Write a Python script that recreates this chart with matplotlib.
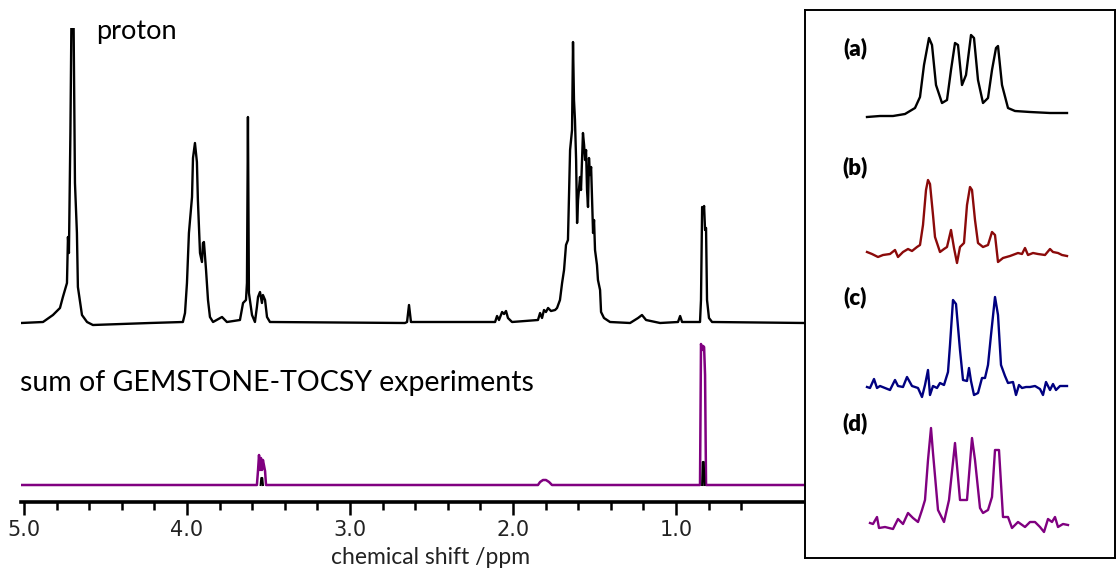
import matplotlib
matplotlib.use("Agg")
import matplotlib.pyplot as plt
from matplotlib.ticker import FixedLocator

### main spectra, values (ppm, intensity above own baseline)
proton_ppm = [5.018, 4.883, 4.822, 4.779, 4.761, 4.736, 4.730, 4.724, 4.715, 4.702,
              4.687, 4.675, 4.669, 4.644, 4.613, 4.577, 4.227, 4.025,
              4.012, 4.000, 3.988, 3.969, 3.963, 3.951, 3.939, 3.933, 3.920, 3.908,
              3.902, 3.896, 3.883, 3.871, 3.859, 3.840, 3.785, 3.755, 3.675, 3.656,
              3.638, 3.632, 3.626, 3.620, 3.601, 3.583, 3.571, 3.564, 3.552, 3.540,
              3.534, 3.521, 3.509, 3.491,
              2.663, 2.650, 2.638, 2.626,
              2.110, 2.098, 2.086, 2.067, 2.055, 2.043, 2.031, 2.006,
              1.847, 1.834, 1.822, 1.810, 1.798, 1.785, 1.767, 1.742, 1.730, 1.712,
              1.699, 1.687, 1.675, 1.663, 1.650, 1.638, 1.632, 1.626, 1.620, 1.613,
              1.607, 1.601, 1.589, 1.583, 1.571, 1.564, 1.558, 1.552, 1.546, 1.540,
              1.534, 1.528, 1.521, 1.515, 1.509, 1.503, 1.497, 1.485, 1.479, 1.466,
              1.460, 1.442, 1.405, 1.282, 1.233, 1.209, 1.184, 1.098, 0.988, 0.975,
              0.963, 0.853, 0.847, 0.840, 0.834, 0.828, 0.822, 0.816, 0.810, 0.798,
              0.779, 0.209]
proton_int = [0, 1, 8, 15, 26, 40, 86, 70, 190, 423,
              140, 90, 36, 8, 1, -2, 0, 1,
              10, 40, 90, 126, 165, 180, 161, 123, 70, 61,
              80, 81, 53, 23, 6, 1, 6, 1, 3, 20,
              23, 40, 206, 30, 8, 1, 16, 26, 31, 20,
              28, 23, 6, 1,
              0, 1, 18, 1,
              1, 7, 3, 11, 9, 12, 5, 1,
              3, 10, 5, 13, 11, 15, 12, 13, 15, 23,
              40, 53, 78, 83, 173, 193, 281, 223, 203, 163,
              100, 123, 146, 133, 190, 178, 163, 173, 133, 116,
              165, 148, 156, 123, 90, 103, 73, 58, 43, 33,
              11, 5, 1, 0, 5, 8, 3, 0, 1, 7,
              1, 1, 23, 116, 111, 117, 93, 95, 23, 5,
              1, 0]

tocsy_ppm = [5.018, 3.571, 3.564, 3.558, 3.552, 3.546, 3.540, 3.534, 3.528, 3.521,
             3.515, 1.847, 1.834, 1.816, 1.798, 1.779, 1.761, 0.853, 0.847, 0.840,
             0.834, 0.828, 0.822, 0.816, 0.209]
tocsy_int = [0, 0, 15, 30, 15, 27, 15, 25, 20, 14,
             0, 0, 3, 5, 5, 3, 0, 0, 141, 135,
             139, 138, 110, 0, 0]

# black trace showing at the foot of the summed peaks
under_ppm = [[3.548, 3.544, 3.538, 3.534], [0.840, 0.836, 0.830, 0.826]]
under_int = [[0, 7, 7, 0], [0, 23, 23, 0]]

### inset traces (point index, intensity)
a_x = [0, 13, 26, 38, 48, 53, 57, 62, 65, 69, 75, 80, 84, 88, 91, 95, 99, 104, 107,
       111, 116, 121, 125, 129, 131, 135, 141, 148, 163, 183, 200]
a_y = [0, 1, 1, 3, 9, 20, 52, 79, 72, 32, 14, 17, 47, 74, 72, 32, 42, 82, 79,
       37, 14, 19, 47, 69, 71, 32, 9, 6, 5, 4, 4]

b_x = [0, 5, 11, 16, 23, 28, 31, 36, 41, 45, 50, 53, 56, 59, 61, 63, 66, 68, 73, 77,
       80, 84, 87, 90, 93, 97, 100, 103, 105, 108, 111, 116, 121, 125, 128, 131, 136,
       143, 151, 155, 158, 161, 166, 171, 178, 183, 186, 191, 195, 200]
b_y = [1, -1, -4, -2, -1, 3, -4, 1, 4, 2, 6, 8, 28, 63, 73, 69, 38, 16, 1, 4,
       6, 23, 5, -10, 6, 10, 48, 66, 63, 33, 10, 6, 8, 21, 18, -9, -5,
       -3, 0, -1, 5, -2, 0, -1, -2, 4, 1, 0, -2, -3]

c_x = [0, 3, 7, 10, 13, 18, 23, 28, 31, 36, 40, 45, 51, 55, 58, 61, 63, 66, 70, 73,
       77, 81, 83, 86, 89, 93, 96, 100, 102, 104, 107, 111, 115, 118, 121, 124, 128,
       131, 134, 138, 141, 146, 149, 152, 155, 159, 163, 168, 173, 176, 179, 183,
       186, 189, 193, 200]
c_y = [0, -1, 8, -1, 1, -1, -3, 7, 1, 0, 10, 1, -1, -10, 2, 17, -8, 1, -1, 4,
       2, 15, 42, 87, 83, 37, 7, 6, 19, 6, -8, -6, 9, 9, 22, 52, 90,
       72, 22, 11, 4, 5, -8, 2, -1, 0, 0, 1, -2, -8, 5, -3,
       3, -3, 1, 1]

d_x = [3, 6, 10, 12, 18, 26, 31, 36, 41, 46, 51, 55, 58, 61, 64, 66, 71, 77, 82, 88,
       93, 100, 105, 108, 113, 116, 121, 125, 128, 132, 136, 141, 145, 151, 158, 163,
       168, 173, 177, 181, 185, 188, 191, 196, 201]
d_y = [1, 0, 7, -4, -3, -5, 5, 0, 11, 6, 2, 14, 24, 64, 96, 71, 14, 2, 24, 81,
       24, 24, 86, 64, 16, 11, 14, 27, 74, 74, 7, 7, -4, 2, -3, 2,
       2, -3, -8, 5, 2, 7, -3, 0, -1]

inset_labels = ["(a)", "(b)", "(c)", "(d)"]

W, H = 1118, 571
fig = plt.figure(figsize=(W / 100, H / 100), dpi=100)

### main panel
ax = fig.add_axes([21 / W, 1 - 502 / H, (805 - 21) / W, (502 - 28) / H])
proton_off = 179
tocsy_off = 17
ax.plot(proton_ppm, [v + proton_off for v in proton_int], color="black", lw=1.7)
ax.plot(tocsy_ppm, [v + tocsy_off for v in tocsy_int], color="#800080", lw=1.8)
for xs, ys in zip(under_ppm, under_int):
    ax.plot(xs, [v + tocsy_off for v in ys], color="black", lw=1.5)

ax.set_xlim(5.018, 0.209)
ax.set_ylim(0, 474)
for s in ["left", "right", "top"]:
    ax.spines[s].set_visible(False)
ax.spines["bottom"].set_linewidth(2.6)
ax.set_yticks([])
ax.set_xticks([5.0, 4.0, 3.0, 2.0, 1.0])
ax.set_xticklabels(["5.0", "4.0", "3.0", "2.0", "1.0"])
ax.xaxis.set_minor_locator(FixedLocator([4.8, 4.6, 4.4, 4.2, 3.8, 3.6, 3.4, 3.2,
                                         2.8, 2.6, 2.4, 2.2, 1.8, 1.6, 1.4, 1.2,
                                         0.8, 0.6]))
ax.tick_params(axis="x", which="major", direction="out", length=9, width=1.8,
               pad=4, labelsize=15, labelcolor="#222222")
ax.tick_params(axis="x", which="minor", direction="out", length=6, width=1.8)

fig.text(96 / W, 1 - 39 / H, "proton", fontsize=19.5, family="Lato",
         ha="left", va="baseline")
fig.text(20 / W, 1 - 391 / H, "sum of GEMSTONE-TOCSY experiments", fontsize=20.5,
         family="Lato", ha="left", va="baseline")
fig.text(431 / W, 1 - 564 / H, "chemical shift /ppm", fontsize=16.5,
         family="Lato", ha="center", va="baseline", color="#222222")

### inset with multiplet details
ax2 = fig.add_axes([805 / W, 1 - 558 / H, 310 / W, 548 / H])
ax2.set_xlim(-62, 248)
ax2.set_ylim(0, 548)
ax2.set_xticks([])
ax2.set_yticks([])
for s in ax2.spines.values():
    s.set_linewidth(1.4)
traces = [(a_x, a_y, "black", 441), (b_x, b_y, "#8b0a0a", 305),
          (c_x, c_y, "#000080", 171), (d_x, d_y, "#800080", 34)]
for xs, ys, col, off in traces:
    ax2.plot(xs, [v + off for v in ys], color=col, lw=1.7)
for lab, yy in zip(inset_labels, [48, 167, 297, 423]):
    ax2.text(0.161, (558 - yy) / 548, lab, transform=ax2.transAxes, fontsize=16,
             family="Lato", fontweight="heavy", ha="center", va="center")

fig.savefig("out.png", dpi=100)
